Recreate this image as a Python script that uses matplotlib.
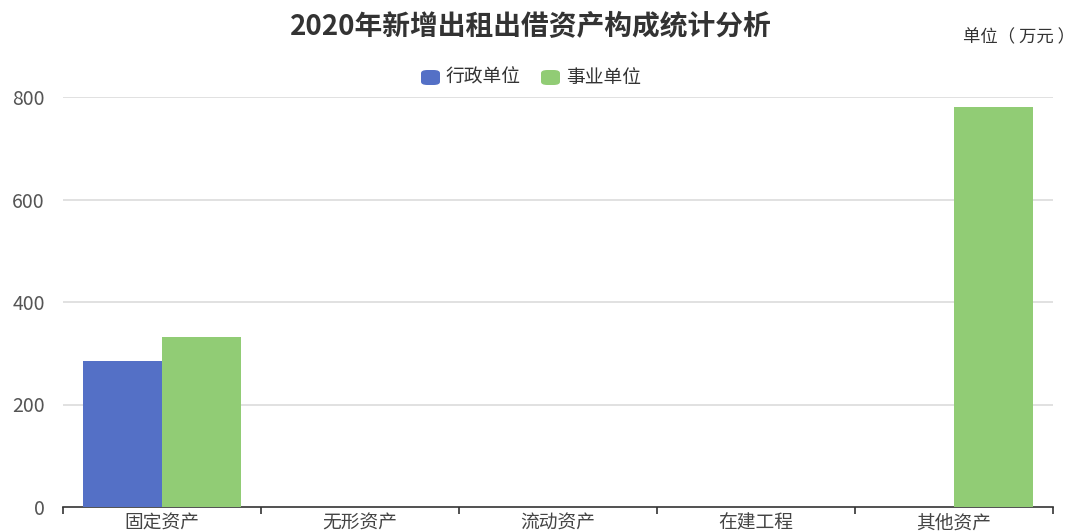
import matplotlib
matplotlib.use('Agg')
import matplotlib.pyplot as plt
import numpy as np
from matplotlib.patches import FancyBboxPatch

plt.rcParams['font.family'] = ['Noto Sans CJK SC', 'DejaVu Sans']

categories = ['固定资产', '无形资产', '流动资产', '在建工程', '其他资产']
series_names = ['行政单位', '事业单位']
admin_values = [285, 0, 0, 0, 0]
public_values = [332, 0, 0, 0, 780]
colors = ['#5470c6', '#91cc75']

W, H = 1073, 532
fig = plt.figure(figsize=(W / 100, H / 100), dpi=100)
ax = fig.add_axes([63 / W, 25 / H, (1053 - 63) / W, (507 - 97) / H])

x = np.arange(len(categories))
bw = 0.4
ax.bar(x - bw / 2, admin_values, width=bw, color=colors[0], zorder=3)
ax.bar(x + bw / 2, public_values, width=bw, color=colors[1], zorder=3)

ax.set_xlim(-0.5, len(categories) - 0.5)
ax.set_ylim(0, 800)
ax.set_yticks([0, 200, 400, 600, 800])
for v in [200, 400, 600, 800]:
    ax.axhline(v, color='#dcdcdc', lw=1.2, zorder=1)

for s in ['top', 'right', 'left']:
    ax.spines[s].set_visible(False)
ax.spines['bottom'].set_color('#333333')
ax.spines['bottom'].set_linewidth(1.2)
ax.tick_params(axis='y', length=0, labelsize=14, labelcolor='#555555', pad=13)

ax.set_xticks(np.arange(len(categories) + 1) - 0.5, minor=False)
ax.set_xticklabels([])
ax.tick_params(axis='x', length=5, width=1.2, color='#333333', direction='out')
for i, c in enumerate(categories):
    ax.text(i, -0.014, c, transform=ax.get_xaxis_transform(), ha='center', va='top',
            fontsize=13.5, color='#444444', clip_on=False)

fig.text(531 / W, 1 - 27 / H, '2020年新增出租出借资产构成统计分析', ha='center', va='center',
         fontsize=20, fontweight='bold', color='#333333')
fig.text(963 / W, 1 - 37 / H, '单位（ 万元 ）', ha='left', va='center', fontsize=12.5,
         color='#333333')

# legend
legend_items = [(421, series_names[0], colors[0]), (541, series_names[1], colors[1])]
for lx, name, col in legend_items:
    box = FancyBboxPatch((lx / W, 1 - 85 / H), 19 / W, 15 / H,
                         boxstyle='round,pad=0,rounding_size=0.006',
                         transform=fig.transFigure, facecolor=col, edgecolor='none')
    fig.patches.append(box)
    fig.text((lx + 25) / W, 1 - 77 / H, name, ha='left', va='center', fontsize=13.5, color='#333333')

fig.savefig('out.png', dpi=100)
